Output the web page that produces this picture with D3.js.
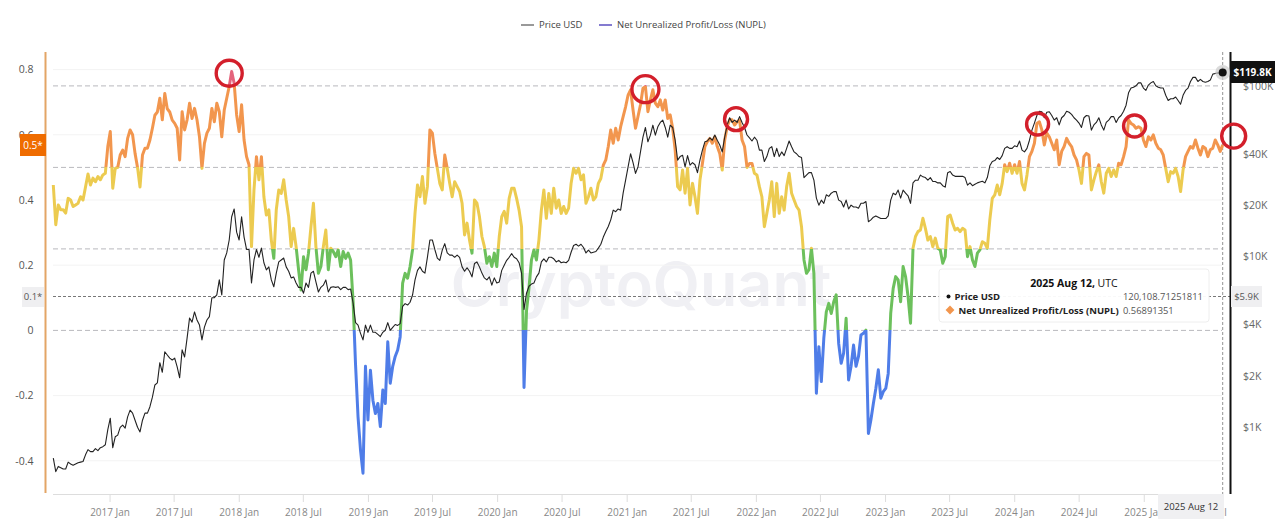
<!DOCTYPE html>
<html>
<head>
<meta charset="utf-8">
<script src="https://cdn.jsdelivr.net/npm/d3@7"></script>
<style>
  html,body{margin:0;padding:0;background:#fff;overflow:hidden}
  text{font-family:"Open Sans","Noto Sans",sans-serif}
</style>
</head>
<body>
<div id="chart"></div>
<script>
var width=1280, height=524;

// weekly closes, one value per week from 2016-07-26 to 2025-08-12
var nuplWeekly=[
 .446,.324,.385,.37,.37,.36,.405,.40,.38,.385,.39,.41,.40,.44,.48,.446,.467,.456,.472,.462,
 .477,.482,.564,.61,.436,.497,.50,.538,.553,.533,.589,.615,.60,.543,.50,.44,.538,.559,.559,.584,
 .62,.66,.67,.712,.646,.727,.68,.67,.645,.635,.62,.523,.671,.615,.646,.697,.65,.681,.646,.594,
 .497,.574,.605,.62,.681,.64,.697,.671,.594,.676,.712,.748,.794,.758,.661,.61,.692,.584,.533,.508,
 .257,.431,.533,.462,.533,.41,.354,.37,.277,.221,.37,.431,.42,.462,.40,.349,.257,.313,.257,.186,
 .124,.226,.186,.237,.318,.39,.257,.175,.196,.257,.308,.186,.252,.242,.226,.247,.196,.242,.221,.237,
 .216,.09,-.106,-.265,-.367,-.438,-.11,-.275,-.122,-.214,-.255,-.224,-.295,-.183,-.224,-.035,-.162,-.11,-.08,-.06,
 -.02,.145,.175,.16,.196,.247,.36,.446,.41,.472,.39,.441,.615,.605,.543,.497,.451,.431,.538,.497,
 .451,.41,.456,.441,.426,.39,.293,.329,.277,.237,.40,.39,.349,.288,.257,.206,.226,.196,.237,.196,
 .288,.349,.365,.329,.405,.436,.436,.405,.369,.318,-.175,.06,.13,.216,.247,.216,.277,.369,.431,.344,
 .42,.359,.436,.375,.40,.359,.38,.359,.375,.451,.497,.482,.497,.462,.477,.39,.41,.436,.40,.41,
 .451,.466,.507,.523,.564,.615,.574,.62,.584,.625,.656,.686,.722,.738,.676,.62,.656,.692,.743,.748,
 .671,.707,.738,.697,.686,.707,.676,.707,.65,.661,.62,.554,.441,.431,.492,.421,.497,.385,.451,.41,
 .359,.461,.512,.564,.579,.589,.574,.594,.564,.543,.492,.584,.625,.646,.646,.63,.64,.645,.584,.564,
 .50,.512,.512,.482,.477,.441,.41,.318,.359,.40,.456,.349,.451,.359,.41,.369,.441,.482,.421,.40,
 .38,.369,.318,.216,.175,.186,.252,.175,-.193,-.05,-.157,-.024,.057,.083,.052,.088,.109,-.04,-.101,-.07,
 .037,-.152,-.11,-.045,-.11,-.08,-.014,-.009,.001,-.316,-.275,-.224,-.178,-.121,-.208,-.188,-.178,-.132,.052,.129,
 .165,.155,.088,.196,.165,.104,.022,.252,.288,.303,.308,.344,.313,.277,.288,.257,.283,.252,.247,.206,
 .226,.349,.354,.329,.308,.313,.303,.313,.308,.226,.257,.216,.196,.237,.247,.272,.267,.252,.339,.405,
 .416,.446,.416,.451,.508,.487,.513,.482,.508,.482,.518,.451,.431,.477,.533,.549,.574,.635,.64,.615,
 .569,.605,.594,.574,.554,.584,.508,.549,.564,.589,.574,.564,.538,.523,.492,.451,.533,.543,.538,.431,
 .461,.487,.508,.456,.421,.482,.497,.472,.492,.472,.513,.508,.533,.564,.646,.635,.63,.62,.625,.62,
 .584,.564,.594,.584,.60,.574,.559,.554,.538,.497,.456,.487,.482,.497,.472,.426,.492,.533,.549,.564,
 .559,.584,.559,.538,.564,.559,.533,.554,.559,.584,.569,.549,.569
];

// thousands of USD
var priceWeekly=[
 .66,.55,.59,.58,.57,.57,.625,.61,.60,.61,.62,.625,.63,.69,.74,.72,.72,.75,.73,.76,
 .77,.79,.97,1.13,.76,.88,.90,1.0,1.03,.99,1.15,1.26,1.21,1.10,1.0,.94,1.10,1.21,1.21,1.32,
 1.50,1.77,1.82,2.39,2.10,2.77,2.65,2.54,2.48,2.54,2.26,1.95,2.84,2.58,3.33,4.37,4.13,4.74,4.25,3.97,
 3.25,3.86,4.25,4.45,5.74,5.74,5.96,7.3,5.96,9.55,10.5,12.5,17.1,19,13.9,12.5,17.1,13,11,11,
 7.0,9.55,11,9.9,11.2,9.2,8.35,8.7,7.3,6.65,8.0,9.3,9.55,9.8,8.7,8.2,7.5,7.6,7,6.6,
 6.6,6.1,7,6.6,8,8.2,7.1,6.2,6.6,6.8,7.3,6.2,6.6,6.65,6.6,6.65,6.4,6.6,6.6,6.4,
 6.45,5.35,4.1,3.97,3.55,3.25,3.97,3.6,3.97,3.6,3.6,3.5,3.4,3.6,3.7,4.1,3.7,3.85,4.0,3.95,
 4.05,5.1,5.3,5.2,5.4,5.95,7.3,8.3,8.7,8.2,8,9.9,12.5,12.5,11,9.8,9.5,10.9,11.9,10.5,
 10.2,10.2,9.9,10.2,9.9,8.7,8.2,8.6,8.2,7.6,9.1,9.3,8.7,8.0,7.5,7.3,7.6,6.8,7.5,7.0,
 7.1,8.3,8.9,9.5,9.9,10.4,9.9,9.7,9.2,8.0,4.9,6.1,6.7,6.9,7,7.6,8.0,9.3,9.7,9.3,
 9.9,9.9,9.7,9.3,9.5,9.2,9.3,9.2,9.5,10.6,11.6,11.8,11.5,11.8,11.3,10.5,10.9,10.5,10.6,10.7,
 11.2,11.8,13,14,15,16.4,18.7,18.3,19,18.7,23.5,28,33.5,40,35.5,30.7,33.5,41,50,57,
 47,51.4,58.8,51.4,57.5,61,63,57,50,58.8,57,48,36.7,38.5,39.2,33.5,39,34.3,35.5,34.5,
 31,36.7,42,47,47.5,49.5,48,51.5,48,45,41,50,59,65,61,63,61,66,61,57,
 51.5,49.5,47.5,50,48,42,42,36,38.5,43,44,38.5,43,38.5,41,39,43,47.5,44,41,
 40,38.5,38,29,30,31,31,28,22,20,21.4,20.5,23,22.5,23.5,24,24,21.4,21,19.5,
 21.4,19,20,19.5,19.5,19.2,20.5,20.5,21,16,16.4,17,17.3,17,16.7,16.7,16.7,17.3,21.4,23.5,
 23,24.5,22,24.5,23.5,22.7,20.5,27,28,28,30,29.3,29,28,29,27.5,27.5,27,27,26,
 25.5,31,31.5,30,29.5,29.5,29.5,29.5,29,26.2,27,26,26.5,27,27.3,27.6,27,29,34,36,
 36.5,38,37,39,43,44,43,43,44.5,44,47.5,42,41,43,48,55,60.5,67,71,70.5,
 65,70,70.5,67,63,65,59,65,67,71,70,68,65,63,60.5,57,65,67,66.5,55,
 59,61,65,59,55,61,63,66,66,61,65,67,71,77,91,97,98,100,104,104,
 97,94,101,104,106,100,98,97,97,88,82,84,84,86,82,78,88,94,97,106,
 112,112,106,109,106,105,106,108,117,118,119,118,120
];

var startDate=new Date(Date.UTC(2016,6,26));
var endDate=new Date(Date.UTC(2025,7,12));
var dataRows=nuplWeekly.map(function(v,i){
  return {date:d3.utcDay.offset(startDate,i*7),nupl:v,price:priceWeekly[i]*1000};
});

var xScale=d3.scaleUtc().domain([startDate,endDate]).range([53.3,1222.7]);
var yLeft=d3.scaleLinear().domain([-0.4,0.8]).range([460.8,69.6]);
var yRight=d3.scaleLog().domain([1000,100000]).range([427.3,85.8]);

// NUPL bands, same colour rule as the source chart
var bandColor=d3.scaleThreshold()
  .domain([0,0.25,0.5,0.75])
  .range(["#4f7de8","#6cc05c","#eccb50","#f2964e","#e4647c"]);

var svg=d3.select("#chart").append("svg")
  .attr("width",width)
  .attr("height",height);

var defs=svg.append("defs");
var grad=defs.append("linearGradient")
  .attr("id","nuplGrad")
  .attr("gradientUnits","userSpaceOnUse")
  .attr("x1",0).attr("x2",0)
  .attr("y1",yLeft(1)).attr("y2",yLeft(-1));
var cuts=[1].concat(bandColor.domain().slice().reverse()).concat([-1]);
for(var k=0;k<cuts.length-1;k++){
  var col=bandColor((cuts[k]+cuts[k+1])/2);
  grad.append("stop").attr("offset",(1-cuts[k])/2).attr("stop-color",col);
  grad.append("stop").attr("offset",(1-cuts[k+1])/2).attr("stop-color",col);
}

// watermark
svg.append("text")
  .attr("x",641).attr("y",306)
  .attr("text-anchor","middle")
  .style("font-family","Inter")
  .style("font-weight","600")
  .style("font-size","61px")
  .style("fill","#f0f0f4")
  .text("CryptoQuant");

// faint grid
svg.append("g").selectAll("line")
  .data([0.8,0.6,0.4,0.2,-0.2,-0.4])
  .enter().append("line")
  .attr("x1",53).attr("x2",1222)
  .attr("y1",function(d){return yLeft(d);})
  .attr("y2",function(d){return yLeft(d);})
  .attr("stroke","#f3f3f3");

// band limits
svg.append("g").selectAll("line")
  .data([0.75,0.5,0.25,0])
  .enter().append("line")
  .attr("x1",53).attr("x2",1222)
  .attr("y1",function(d){return yLeft(d);})
  .attr("y2",function(d){return yLeft(d);})
  .attr("stroke","#b9b9bd")
  .attr("stroke-dasharray","5,3");

// crosshair at the hovered day
svg.append("line")
  .attr("x1",53).attr("x2",1230)
  .attr("y1",296.5).attr("y2",296.5)
  .attr("stroke","#555")
  .attr("stroke-width",0.8)
  .attr("stroke-dasharray","3,2");
svg.append("line")
  .attr("x1",xScale(endDate)).attr("x2",xScale(endDate))
  .attr("y1",52).attr("y2",494)
  .attr("stroke","#777")
  .attr("stroke-width",0.8)
  .attr("stroke-dasharray","3,2");

// left axis
var leftAxis=d3.axisLeft(yLeft)
  .tickValues([0.8,0.6,0.4,0.2,0,-0.2,-0.4])
  .tickSize(0)
  .tickFormat(function(d){return String(d);});
var gLeft=svg.append("g").attr("transform","translate(45.5,0)").call(leftAxis);
gLeft.select(".domain").remove();
gLeft.selectAll("text")
  .attr("x",-12)
  .style("font-size","10.5px")
  .style("fill","#555");
svg.append("line")
  .attr("x1",45.5).attr("x2",45.5).attr("y1",52).attr("y2",493)
  .attr("stroke","#e3a566").attr("stroke-width",2);

// right axis
var rightAxis=d3.axisRight(yRight)
  .tickValues([1000,2000,4000,10000,20000,40000,100000])
  .tickSize(0)
  .tickFormat(function(d){return "$"+(d/1000)+"K";});
var gRight=svg.append("g").attr("transform","translate(1231,0)").call(rightAxis);
gRight.select(".domain").remove();
gRight.selectAll("text")
  .attr("x",12)
  .style("font-size","10.5px")
  .style("fill","#666");
svg.append("line")
  .attr("x1",1230.5).attr("x2",1230.5).attr("y1",52).attr("y2",494)
  .attr("stroke","#111").attr("stroke-width",2);

// x axis
var xAxis=d3.axisBottom(xScale)
  .ticks(d3.utcMonth.every(6))
  .tickSize(8)
  .tickPadding(7)
  .tickFormat(d3.utcFormat("%Y %b"));
var gX=svg.append("g").attr("transform","translate(0,494)").call(xAxis);
gX.select(".domain").attr("stroke","#ddd").attr("d","M53,0.5H1222");
gX.selectAll(".tick line").attr("stroke","#ddd");
gX.selectAll("text")
  .style("font-size","10px")
  .style("fill","#888");

// series
var nuplLine=d3.line()
  .x(function(d){return xScale(d.date);})
  .y(function(d){return yLeft(d.nupl);});
var priceLine=d3.line()
  .x(function(d){return xScale(d.date);})
  .y(function(d){return yRight(d.price);});

svg.append("path")
  .datum(dataRows)
  .attr("d",nuplLine)
  .attr("fill","none")
  .attr("stroke","url(#nuplGrad)")
  .attr("stroke-width",3)
  .attr("stroke-linejoin","round");
svg.append("path")
  .datum(dataRows)
  .attr("d",priceLine)
  .attr("fill","none")
  .attr("stroke","#222")
  .attr("stroke-width",1.1)
  .attr("stroke-linejoin","round");

// hand drawn circles on the NUPL tops (week index, nupl level, radius)
var marks=[{w:71,v:.789,r:13},{w:239,v:.74,r:13.5},{w:275.6,v:.648,r:11.5},
           {w:397.3,v:.633,r:11},{w:436.5,v:.627,r:11},{w:476.5,v:.596,r:12}];
svg.append("g").selectAll("circle")
  .data(marks)
  .enter().append("circle")
  .attr("cx",function(d){return xScale(d3.utcDay.offset(startDate,d.w*7));})
  .attr("cy",function(d){return yLeft(d.v);})
  .attr("r",function(d){return d.r;})
  .attr("fill","none")
  .attr("stroke","#d31f2b")
  .attr("stroke-width",3.4);

// last price dot
var last=dataRows[dataRows.length-1];
svg.append("circle")
  .attr("cx",xScale(last.date)).attr("cy",yRight(119800))
  .attr("r",7.5).attr("fill","#ccc").attr("fill-opacity",0.7);
svg.append("circle")
  .attr("cx",xScale(last.date)).attr("cy",yRight(119800))
  .attr("r",4).attr("fill","#111");

// value tags on the axes
function tag(x,y,w,h,bg,label,color,size,weight){
  var g=svg.append("g");
  g.append("rect").attr("x",x).attr("y",y).attr("width",w).attr("height",h).attr("fill",bg);
  g.append("text")
    .attr("x",x+w/2).attr("y",y+h/2)
    .attr("dy","0.35em")
    .attr("text-anchor","middle")
    .style("font-size",size+"px")
    .style("font-weight",weight)
    .style("fill",color)
    .text(label);
}
tag(20,134,26,22,"#ef6c00","0.5*","#fff",10,400);
tag(22,287,22,20,"#efeff1","0.1*","#555",9.5,400);
tag(1230,61,45,22,"#111","$119.8K","#fff",10,700);
tag(1231,286,31,21,"#efeff1","$5.9K","#555",9.5,400);
tag(1158,494,66,25,"#f0f0f2","2025 Aug 12","#333",9.5,400);

// legend
var dataLegend=[{name:"Price USD",color:"#777",x:521},
                {name:"Net Unrealized Profit/Loss (NUPL)",color:"#5b4fc0",x:599}];
var nodeLegend=svg.append("g").selectAll("g")
  .data(dataLegend)
  .enter().append("g")
  .attr("transform",function(d){return "translate("+d.x+",25)";});
nodeLegend.append("line")
  .attr("x1",0).attr("x2",13)
  .attr("stroke",function(d){return d.color;})
  .attr("stroke-width",1.5);
nodeLegend.append("text")
  .attr("x",18).attr("dy","0.35em")
  .style("font-size","9.5px")
  .style("fill","#444")
  .text(function(d){return d.name;});

// tooltip
var tip=svg.append("g");
tip.append("rect")
  .attr("x",939).attr("y",269).attr("width",270).attr("height",53).attr("rx",3)
  .attr("fill","#fff").attr("fill-opacity",0.95).attr("stroke","#eee");
var title=tip.append("text")
  .attr("x",1074).attr("y",287)
  .attr("text-anchor","middle")
  .style("font-size","10.5px")
  .style("fill","#111");
title.append("tspan").style("font-weight","700").text("2025 Aug 12,");
title.append("tspan").text(" UTC");
tip.append("circle").attr("cx",948.5).attr("cy",296.5).attr("r",2).attr("fill","#111");
tip.append("text").attr("x",954.5).attr("y",300)
  .style("font-size","9.5px").style("font-weight","700").style("fill","#222").text("Price USD");
tip.append("text").attr("x",1123).attr("y",300)
  .style("font-size","9.4px").style("fill","#555").text("120,108.71251811");
tip.append("path")
  .attr("transform","translate(950,310)")
  .attr("d",d3.symbol().type(d3.symbolDiamond2).size(50)())
  .attr("fill","#f2964e");
tip.append("text").attr("x",958.5).attr("y",313.5)
  .style("font-size","9.5px").style("font-weight","700").style("fill","#222").text("Net Unrealized Profit/Loss (NUPL)");
tip.append("text").attr("x",1123).attr("y",313.5)
  .style("font-size","9.4px").style("fill","#555").text("0.56891351");
</script>
</body>
</html>
